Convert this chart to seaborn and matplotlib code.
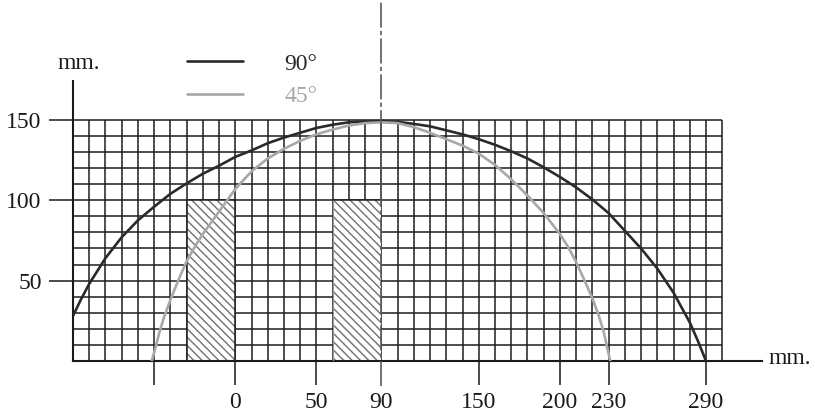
import numpy as np
import seaborn as sns
import matplotlib.pyplot as plt

# curve readings (mm)
x_90 = [-100, -95, -90, -80, -70, -60, -50, -40, -30, -20, -10, 0, 10, 20, 30, 40, 50, 60, 70, 80, 90,
        100, 110, 120, 130, 140, 150, 160, 170, 180, 190, 200, 210, 220, 230, 240, 250, 260, 270, 280, 285, 290]
y_90 = [28, 38.5, 48, 64, 77, 87.5, 96, 104, 110.5, 116.5, 121.5, 127, 131, 135.5, 139, 142, 145, 147, 148.5, 149, 149.2,
        148.8, 147.5, 146, 143.5, 141, 138, 134.5, 130.5, 126, 120.5, 114.5, 108, 100.5, 92, 81, 70, 57.5, 42.5, 24, 12.5, 0]

x_45 = [-51.5, -49, -47, -44, -40, -35, -30, -25, -20, -10, 0, 10, 20, 30, 40, 50, 60, 70, 80, 90,
        100, 110, 120, 130, 140, 150, 160, 170, 180, 190, 200, 205, 210, 215, 220, 224, 227, 229, 231]
y_45 = [0, 9, 17, 27, 38, 50.5, 62, 71, 79, 93, 107, 118, 126, 132, 137, 141, 144, 146.5, 148, 148.5,
        148, 145.5, 142, 138, 134, 129, 122, 113, 103, 92, 79, 71, 61.5, 50.5, 39, 28, 18, 9, 0]

labels = ['90°', '45°']

# hatched blocks
hatch_left = [-30, 60]
hatch_right = [0, 90]
hatch_top = [100, 100]

centre_x = 90
xticks = [-50, 0, 50, 90, 150, 200, 230, 290]
xticklabels = ['', '0', '50', '90', '150', '200', '230', '290']
yticks = [50, 100, 150]

grid_x = np.arange(-100, 301, 10)
grid_y = np.arange(10, 151, 10)

sns.set_theme(style='white')
plt.rcParams['font.family'] = ['Liberation Serif', 'DejaVu Serif']
plt.rcParams['hatch.linewidth'] = 1.0

fig = plt.figure(figsize=(8.15, 4.19), dpi=100)
ax = fig.add_axes([73 / 815, 1 - 361 / 419, 689 / 815, 280 / 419])

# grid
ax.vlines(grid_x, 0, 150, color='#1e1e1e', linewidth=1.1, zorder=1)
ax.hlines(grid_y, -100, 300, color='#1e1e1e', linewidth=1.1, zorder=1)

# hatched blocks
widths = [r - l for l, r in zip(hatch_left, hatch_right)]
ax.bar(hatch_left, hatch_top, width=widths, align='edge', color='white',
       edgecolor='#707070', hatch='\\\\\\\\', linewidth=0, zorder=2)
ax.hlines(hatch_top, hatch_left, hatch_right, color='#1e1e1e', linewidth=1.1, zorder=3)
ax.vlines([hatch_left[0], hatch_right[0]], 0, hatch_top[0], color='#1e1e1e', linewidth=1.1, zorder=3)
ax.vlines([hatch_left[1]], 0, hatch_top[1], color='#9a9a9a', linewidth=0.8, zorder=3)

sns.lineplot(x=x_90, y=y_90, color='#2a2a2a', linewidth=1.9, ax=ax, label=labels[0], zorder=4)
sns.lineplot(x=x_45, y=y_45, color='#a8a8a8', linewidth=1.9, ax=ax, label=labels[1], zorder=4)

ax.axvline(centre_x, ymin=-0.09, ymax=1.3, color='#5a5a5a', linewidth=1.2,
           linestyle=(0, (15, 2, 2.5, 2)), clip_on=False, zorder=5)

ax.set_xlim(-100, 324.5)
ax.set_ylim(0, 174.2)
sns.despine(ax=ax)
for side in ['left', 'bottom']:
    ax.spines[side].set_color('#1a1a1a')
    ax.spines[side].set_linewidth(1.5)

ax.set_xticks(xticks)
ax.set_xticklabels(xticklabels)
ax.set_yticks(yticks)
ax.tick_params(axis='both', direction='out', length=17.5, width=1.1, color='#1a1a1a',
               labelsize=17, labelcolor='#1a1a1a', bottom=True, left=True)
ax.tick_params(axis='x', pad=5)
ax.tick_params(axis='y', pad=5)
ax.xaxis.get_major_ticks()[3].tick1line.set_visible(False)

ax.set_ylabel('mm.', rotation=0, fontsize=17, color='#1a1a1a')
ax.yaxis.set_label_coords(0.009, 1.064)
ax.yaxis.label.set_verticalalignment('center')
ax.set_xlabel('mm.', fontsize=17, color='#1a1a1a')
ax.xaxis.set_label_coords(1.04, 0.01)
ax.xaxis.label.set_verticalalignment('center')

ax.legend(loc='center left', bbox_to_anchor=(166 / 815, 1 - 80 / 419), bbox_transform=fig.transFigure,
          frameon=False, fontsize=17, handlelength=2.35, handletextpad=1.75, labelspacing=0.45,
          labelcolor='linecolor')

fig.savefig('out.png', dpi=100, facecolor='white')
